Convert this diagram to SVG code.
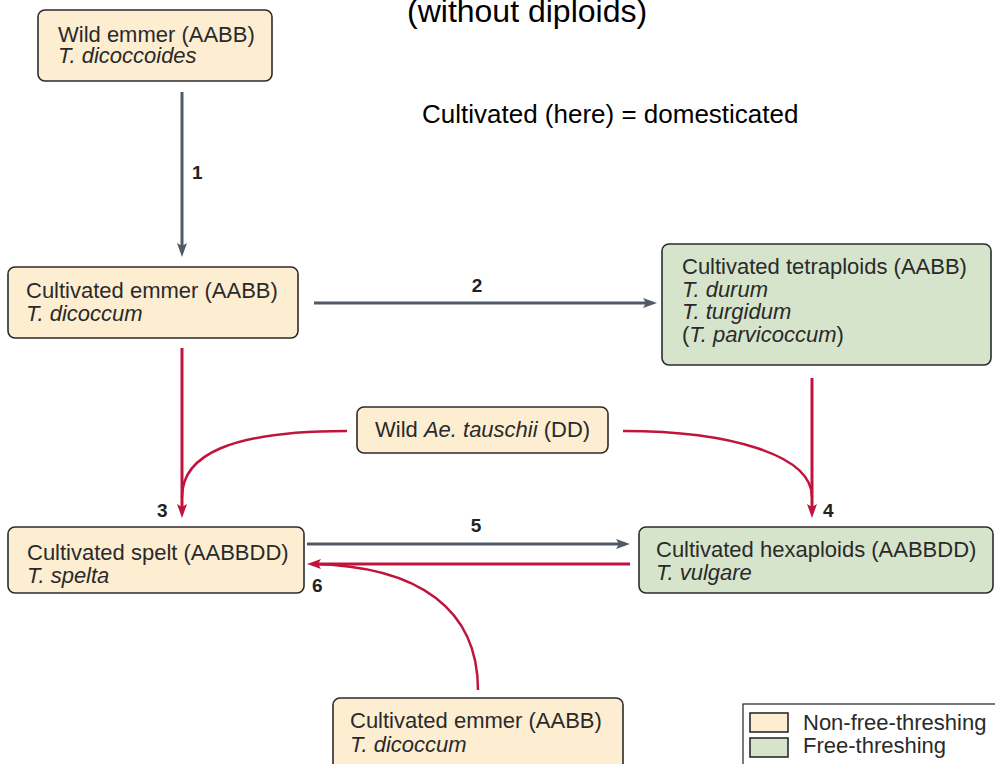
<svg xmlns="http://www.w3.org/2000/svg" width="995" height="764" viewBox="0 0 995 764">
<style>
.box{stroke:#2b2b2b;stroke-width:1.6}
.nf{fill:#fdeed2}
.ft{fill:#d6e4cb}
.t{font-family:"Liberation Sans",Arial,sans-serif;font-size:22px;fill:#2a2a2a}
.i{font-style:italic}
.num{font-family:"Liberation Sans",Arial,sans-serif;font-size:19px;font-weight:bold;fill:#222}
.g{fill:none;stroke:#505a64;stroke-width:3}
.r{fill:none;stroke:#c0143c;stroke-width:3}
.rc{fill:none;stroke:#c0143c;stroke-width:2.5}
.hd{font-family:"Liberation Sans",Arial,sans-serif;fill:#000}
</style>
<defs>
<marker id="ag" viewBox="0 0 14 10" refX="9" refY="5" markerWidth="14" markerHeight="10" markerUnits="userSpaceOnUse" orient="auto"><path d="M0,0 L14,5 L0,10 L3,5 z" fill="#505a64"/></marker>
<marker id="ar" viewBox="0 0 14 10" refX="9" refY="5" markerWidth="14" markerHeight="10" markerUnits="userSpaceOnUse" orient="auto"><path d="M0,0 L14,5 L0,10 L3,5 z" fill="#c0143c"/></marker>
</defs>
<rect width="995" height="764" fill="#fff"/>
<text class="hd" x="407" y="22" font-size="32">(without diploids)</text>
<text class="hd" x="422" y="123" font-size="26">Cultivated (here) = domesticated</text>

<g id="connectors">
<line class="g" x1="182" y1="92" x2="182" y2="252" marker-end="url(#ag)"/>
<line class="g" x1="314" y1="303" x2="652" y2="303" marker-end="url(#ag)"/>
<line class="r" x1="182" y1="348" x2="182" y2="513" marker-end="url(#ar)"/>
<path class="rc" d="M347,431 C230,431 182,455 182,497"/>
<line class="r" x1="812" y1="378" x2="812" y2="513" marker-end="url(#ar)"/>
<path class="rc" d="M623,431 C730,431 812,455 812,497"/>
<line class="g" x1="307" y1="544" x2="625" y2="544" marker-end="url(#ag)"/>
<line class="r" x1="630" y1="564" x2="312" y2="564" marker-end="url(#ar)"/>
<path class="rc" d="M478,690 C478,610 420,566 312,564"/>
<text class="num" x="192" y="179">1</text>
<text class="num" x="477" y="292" text-anchor="middle">2</text>
<text class="num" x="157" y="517">3</text>
<text class="num" x="823" y="517">4</text>
<text class="num" x="476" y="532" text-anchor="middle">5</text>
<text class="num" x="312" y="592">6</text>
</g>

<g id="wild-emmer">
<rect class="box nf" x="38" y="10" width="234" height="71" rx="7"/>
<text class="t" x="58" y="42">Wild emmer (AABB)</text>
<text class="t i" x="58" y="63">T. dicoccoides</text>
</g>

<g id="cultivated-emmer">
<rect class="box nf" x="8" y="267" width="290" height="71" rx="7"/>
<text class="t" x="26" y="298">Cultivated emmer (AABB)</text>
<text class="t i" x="26" y="321">T. dicoccum</text>
</g>

<g id="cultivated-tetraploids">
<rect class="box ft" x="662" y="244" width="329" height="121" rx="7"/>
<text class="t" x="682" y="274">Cultivated tetraploids (AABB)</text>
<text class="t i" x="682" y="297">T. durum</text>
<text class="t i" x="682" y="319">T. turgidum</text>
<text class="t" x="682" y="342">(<tspan class="i">T. parvicoccum</tspan>)</text>
</g>

<g id="ae-tauschii">
<rect class="box nf" x="357" y="407" width="251" height="46" rx="7"/>
<text class="t" x="375" y="437">Wild <tspan class="i">Ae. tauschii</tspan> (DD)</text>
</g>

<g id="cultivated-spelt">
<rect class="box nf" x="8" y="527" width="296" height="66" rx="7"/>
<text class="t" x="27" y="560">Cultivated spelt (AABBDD)</text>
<text class="t i" x="27" y="583">T. spelta</text>
</g>

<g id="cultivated-hexaploids">
<rect class="box ft" x="639" y="527" width="354" height="66" rx="7"/>
<text class="t" x="656" y="557">Cultivated hexaploids (AABBDD)</text>
<text class="t i" x="656" y="580">T. vulgare</text>
</g>

<g id="cultivated-emmer-2">
<rect class="box nf" x="333" y="698" width="290" height="80" rx="7"/>
<text class="t" x="350" y="728">Cultivated emmer (AABB)</text>
<text class="t i" x="350" y="752">T. dicoccum</text>
</g>

<g id="legend">
<rect x="743" y="704" width="260" height="70" fill="#fff" stroke="#222" stroke-width="1.2"/>
<rect class="box nf" x="750" y="713" width="38" height="19"/>
<rect class="box ft" x="750" y="738" width="38" height="19"/>
<text class="t" x="803" y="730">Non-free-threshing</text>
<text class="t" x="803" y="753">Free-threshing</text>
</g>
</svg>
